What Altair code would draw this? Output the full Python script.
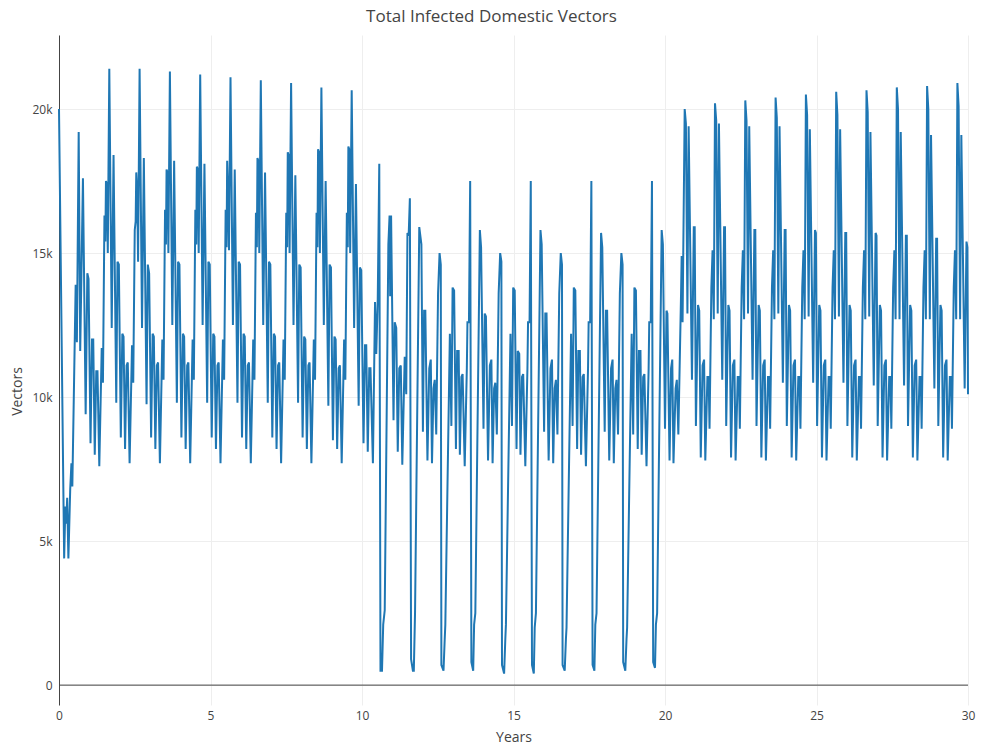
import altair as alt
import pandas as pd

TITLE = "Total Infected Domestic Vectors"
X_TICKS = [0, 5, 10, 15, 20, 25, 30]
Y_TICKS = [0, 5000, 10000, 15000, 20000]

# values in thousands of vectors; phases are fractions of a year
PH_Y0 = [0.00, 0.17, 0.21, 0.24, 0.27, 0.31, 0.37, 0.41, 0.44, 0.55, 0.59, 0.65, 0.70, 0.79, 0.88, 0.935, 0.975]
Y00 = [20.0, 4.4, 6.2, 5.6, 6.5, 4.4, 6.8, 7.7, 6.9, 13.9, 11.9, 19.2, 11.6, 17.6, 9.4, 14.3, 14.1]

PH_A = [0.04, 0.09, 0.13, 0.18, 0.23, 0.27, 0.33, 0.41, 0.45, 0.50, 0.53, 0.55, 0.58, 0.61, 0.66, 0.74, 0.80, 0.89, 0.93, 0.975]
Y01 = [8.4, 12.0, 12.0, 8.0, 10.9, 10.9, 7.6, 11.7, 10.5, 16.3, 15.4, 17.5, 17.4, 15.0, 21.4, 12.4, 18.4, 9.8, 14.7, 14.6]
Y02 = [8.6, 12.2, 12.1, 8.2, 11.1, 11.2, 7.7, 11.8, 10.5, 15.8, 16.1, 17.8, 17.2, 14.7, 21.4, 12.4, 18.3, 9.75, 14.6, 14.3]
Y03 = [8.6, 12.2, 12.1, 8.2, 11.1, 11.2, 7.7, 12.0, 10.6, 16.5, 15.3, 17.9, 17.8, 15.0, 21.3, 12.5, 18.2, 9.8, 14.7, 14.6]
Y04 = [8.6, 12.2, 12.1, 8.2, 11.1, 11.2, 7.7, 12.0, 10.6, 16.5, 15.3, 18.0, 17.9, 15.0, 21.2, 12.5, 18.1, 9.8, 14.7, 14.6]
Y05 = [8.6, 12.2, 12.1, 8.2, 11.1, 11.2, 7.7, 12.0, 10.6, 16.5, 15.2, 18.2, 17.1, 15.1, 21.1, 12.5, 17.9, 9.8, 14.7, 14.6]
Y06 = [8.6, 12.2, 12.1, 8.2, 11.1, 11.2, 7.7, 12.0, 10.6, 16.4, 15.2, 18.3, 18.2, 15.0, 21.0, 12.5, 17.8, 9.8, 14.7, 14.6]
Y07 = [8.6, 12.2, 12.1, 8.2, 11.1, 11.2, 7.7, 12.0, 10.6, 16.4, 15.2, 18.5, 18.4, 15.0, 20.9, 12.5, 17.7, 9.8, 14.6, 14.5]
Y08 = [8.6, 12.1, 12.0, 8.2, 11.1, 11.2, 7.7, 12.0, 10.6, 16.4, 15.2, 18.6, 18.5, 15.0, 20.75, 12.5, 17.5, 9.7, 14.6, 14.5]
Y09 = [8.5, 12.1, 12.0, 8.2, 11.0, 11.1, 7.7, 12.0, 10.6, 16.4, 15.2, 18.7, 18.6, 15.0, 20.65, 12.4, 17.4, 9.7, 14.5, 14.4]

PH_10 = [0.05, 0.10, 0.14, 0.19, 0.24, 0.28, 0.36, 0.43, 0.47, 0.52, 0.57, 0.61, 0.66, 0.70, 0.75, 0.87, 0.91, 0.93, 0.96]
Y10 = [8.4, 11.8, 11.8, 8.1, 11.0, 11.0, 7.7, 13.3, 11.5, 13.4, 18.1, 0.5, 0.5, 2.1, 2.6, 15.3, 16.3, 13.5, 16.3]
PH_11 = [0.04, 0.08, 0.13, 0.18, 0.23, 0.28, 0.33, 0.41, 0.46, 0.50, 0.54, 0.58, 0.62, 0.68, 0.71, 0.75, 0.89, 0.96]
Y11 = [9.2, 12.6, 12.4, 8.1, 11.0, 11.1, 7.65, 11.4, 10.1, 15.7, 15.6, 16.9, 0.9, 0.5, 0.5, 2.5, 15.9, 15.3]

PH_P = [0.01, 0.05, 0.09, 0.16, 0.22, 0.27, 0.31, 0.36, 0.40, 0.45, 0.51, 0.56, 0.60, 0.62, 0.69, 0.73, 0.75, 0.90, 0.95, 0.99]
Y12 = [8.8, 13.0, 13.0, 7.8, 11.0, 11.3, 7.7, 10.3, 10.6, 8.7, 13.6, 15.0, 14.6, 0.7, 0.5, 1.6, 2.1, 12.2, 9.0, 13.8]
Y14 = [8.9, 12.9, 12.8, 7.8, 11.1, 11.3, 7.7, 10.3, 10.5, 8.7, 13.6, 15.0, 14.7, 0.7, 0.4, 1.6, 2.1, 12.2, 9.0, 13.8]
Y16 = [8.8, 12.9, 12.9, 7.8, 11.0, 11.3, 7.7, 10.3, 10.6, 8.7, 13.6, 15.0, 14.6, 0.7, 0.5, 1.6, 2.0, 12.2, 9.0, 13.8]
Y18 = [8.8, 13.0, 13.0, 7.8, 11.0, 11.3, 7.7, 10.3, 10.6, 8.7, 13.6, 15.0, 14.6, 0.8, 0.5, 1.6, 2.0, 12.2, 8.7, 13.8]

PH_Q = [0.04, 0.10, 0.14, 0.19, 0.23, 0.28, 0.32, 0.39, 0.46, 0.48, 0.53, 0.57, 0.61, 0.67, 0.70, 0.74, 0.89, 0.93]
Y13 = [13.7, 8.2, 11.6, 11.6, 8.0, 10.7, 10.8, 7.6, 11.0, 12.6, 12.6, 17.5, 0.8, 0.5, 2.1, 2.5, 15.8, 15.2]
Y15 = [13.7, 8.2, 11.6, 11.5, 8.0, 10.7, 10.8, 7.6, 11.0, 12.6, 12.6, 17.5, 0.7, 0.4, 2.0, 2.5, 15.8, 15.3]
Y17 = [13.7, 8.2, 11.6, 11.6, 8.0, 10.7, 10.8, 7.6, 11.0, 12.6, 12.6, 17.5, 0.7, 0.5, 2.1, 2.5, 15.7, 15.2]
Y19 = [13.7, 8.2, 11.6, 11.6, 8.0, 10.7, 10.8, 7.6, 11.0, 12.6, 12.6, 17.5, 0.8, 0.6, 2.1, 2.5, 15.8, 15.3]

PH_20 = [0.00, 0.05, 0.08, 0.15, 0.20, 0.24, 0.28, 0.35, 0.39, 0.44, 0.53, 0.55, 0.58, 0.65, 0.69, 0.74, 0.78, 0.89, 0.95, 0.98]
Y20 = [8.9, 13.0, 12.9, 7.8, 11.0, 11.3, 7.7, 10.3, 10.6, 8.7, 13.6, 14.9, 12.6, 20.0, 19.5, 12.9, 19.4, 10.6, 15.9, 15.9]

PH_C = [0.02, 0.09, 0.13, 0.18, 0.24, 0.29, 0.33, 0.40, 0.44, 0.47, 0.53, 0.57, 0.61, 0.65, 0.69, 0.74, 0.78, 0.89, 0.95, 0.98]
Y21 = [9.0, 13.2, 13.0, 7.9, 11.1, 11.3, 7.8, 10.7, 10.7, 8.9, 13.8, 15.1, 12.7, 20.2, 19.6, 12.9, 19.5, 10.6, 15.9, 15.9]
Y22 = [9.0, 13.2, 13.0, 7.9, 11.1, 11.3, 7.8, 10.7, 10.7, 8.9, 13.8, 15.1, 12.7, 20.3, 19.6, 12.9, 19.4, 10.6, 15.8, 15.8]
Y23 = [9.0, 13.2, 13.0, 7.9, 11.1, 11.3, 7.8, 10.7, 10.7, 8.9, 13.8, 15.1, 12.7, 20.4, 19.7, 12.9, 19.4, 10.5, 15.8, 15.8]
Y24 = [9.0, 13.2, 13.0, 7.9, 11.1, 11.3, 7.8, 10.7, 10.7, 8.9, 13.8, 15.1, 12.7, 20.5, 19.8, 12.8, 19.3, 10.5, 15.8, 15.7]
Y25 = [9.0, 13.2, 13.0, 7.9, 11.1, 11.3, 7.8, 10.7, 10.7, 8.9, 13.8, 15.1, 12.7, 20.6, 19.8, 12.8, 19.3, 10.5, 15.7, 15.7]
Y26 = [9.0, 13.2, 13.0, 7.9, 11.1, 11.3, 7.8, 10.7, 10.7, 8.9, 13.8, 15.1, 12.7, 20.65, 19.9, 12.8, 19.2, 10.4, 15.7, 15.6]
Y27 = [9.0, 13.2, 13.0, 7.9, 11.1, 11.3, 7.8, 10.7, 10.7, 8.9, 13.8, 15.1, 12.7, 20.75, 20.0, 12.7, 19.2, 10.4, 15.6, 15.6]
Y28 = [9.0, 13.2, 13.0, 7.9, 11.1, 11.3, 7.8, 10.7, 10.7, 8.9, 13.8, 15.1, 12.7, 20.8, 20.0, 12.7, 19.1, 10.3, 15.5, 15.5]
PH_29 = [0.02, 0.09, 0.13, 0.18, 0.24, 0.29, 0.33, 0.40, 0.44, 0.47, 0.53, 0.57, 0.61, 0.65, 0.69, 0.74, 0.78, 0.89, 0.95, 0.98, 1.00]
Y29 = [9.0, 13.2, 13.0, 7.9, 11.1, 11.3, 7.8, 10.7, 10.7, 8.9, 13.8, 15.1, 12.7, 20.9, 20.1, 12.7, 19.1, 10.3, 15.4, 15.2, 10.1]

YEARS = [
    (0, PH_Y0, Y00), (1, PH_A, Y01), (2, PH_A, Y02), (3, PH_A, Y03), (4, PH_A, Y04),
    (5, PH_A, Y05), (6, PH_A, Y06), (7, PH_A, Y07), (8, PH_A, Y08), (9, PH_A, Y09),
    (10, PH_10, Y10), (11, PH_11, Y11), (12, PH_P, Y12), (13, PH_Q, Y13), (14, PH_P, Y14),
    (15, PH_Q, Y15), (16, PH_P, Y16), (17, PH_Q, Y17), (18, PH_P, Y18), (19, PH_Q, Y19),
    (20, PH_20, Y20), (21, PH_C, Y21), (22, PH_C, Y22), (23, PH_C, Y23), (24, PH_C, Y24),
    (25, PH_C, Y25), (26, PH_C, Y26), (27, PH_C, Y27), (28, PH_C, Y28), (29, PH_29, Y29),
]

rows = []
for year, phases, vals in YEARS:
    for ph, v in zip(phases, vals):
        rows.append({"t": year + ph, "v": v * 1000})
df = pd.DataFrame(rows)

FONT = "Open Sans"
GREY = "#444444"
Y_SCALE = alt.Scale(domain=[-690, 22570], nice=False, zero=False)

x_enc = alt.X(
    "t:Q",
    scale=alt.Scale(domain=[0, 30], nice=False, zero=False),
    axis=alt.Axis(values=X_TICKS, title="Years", domain=False, ticks=False,
                  labelPadding=5, labelFlush=False, labelOverlap=False,
                  titleY=32, titleBaseline="middle", format="d"),
)
y_enc = alt.Y(
    "v:Q",
    scale=Y_SCALE,
    axis=alt.Axis(values=Y_TICKS, title="Vectors", domain=True,
                  labelExpr="datum.value == 0 ? '0' : format(datum.value / 1000, 'd') + 'k'",
                  domainColor=GREY, ticks=False, labelPadding=7,
                  labelFlush=False, labelOverlap=False,
                  titleX=-42, titleY=356, titleBaseline="middle"),
)

line = alt.Chart(df).mark_line(color="#1f77b4", strokeWidth=2).encode(x=x_enc, y=y_enc)

zero = alt.Chart(pd.DataFrame({"v": [0]})).mark_rule(color=GREY, strokeWidth=1).encode(
    y=alt.Y("v:Q", scale=Y_SCALE)
)

chart = (
    alt.layer(zero, line)
    .properties(
        width=909,
        height=670,
        title=alt.TitleParams(TITLE, fontSize=17, font=FONT, color=GREY,
                              fontWeight="normal", anchor="middle", dx=-22, offset=9),
        autosize=alt.AutoSizeParams(type="none"),
        padding={"left": 59, "top": 35, "right": 14, "bottom": 42},
        background="white",
    )
    .configure_view(stroke=None)
    .configure_axis(
        labelFont=FONT, labelFontSize=12, labelColor=GREY,
        titleFont=FONT, titleFontSize=14, titleColor=GREY, titleFontWeight="normal",
        gridColor="#eeeeee", gridWidth=1,
    )
)

chart.save("out.html", embed_options={"renderer": "svg", "actions": False})
